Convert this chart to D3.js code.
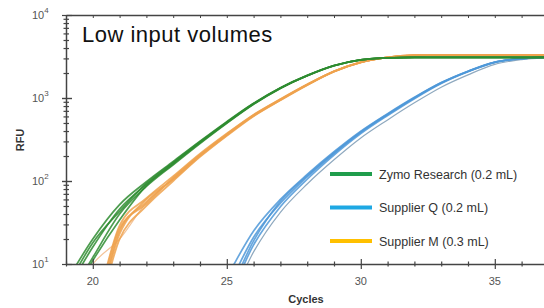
<!DOCTYPE html>
<html>
<head>
<meta charset="utf-8">
<script src="https://d3js.org/d3.v7.min.js"></script>
<style>
body { margin: 0; background: #fff; }
svg { display: block; font-family: "Liberation Sans", Arial, sans-serif; }
.axis path, .axis line { stroke: #444; }
.ticklab { fill: #555; font-size: 11px; }
.axtitle { fill: #333; font-size: 11px; font-weight: bold; }
.leg { fill: #333; font-size: 12.5px; }
</style>
</head>
<body>
<svg width="544" height="308"></svg>
<script>
// cycles sampled for every replicate curve
var cycles = [19,20,21,22,23,24,25,26,27,28,29,30,31,32,33,34,35,36,37,38,39,40];

// Zymo Research (0.2 mL) replicates, RFU
var zymo = [
  [4.5, 16, 46, 91, 164, 292, 507, 851, 1318, 1862, 2455, 2884, 3034, 3090, 3090, 3090, 3090, 3090, 3090, 3090, 3090, 3090],
  [6, 20, 52, 98, 172, 302, 520, 865, 1330, 1875, 2465, 2890, 3040, 3095, 3095, 3095, 3095, 3095, 3095, 3095, 3095, 3095],
  [3.5, 12, 40, 86, 157, 283, 496, 840, 1305, 1850, 2445, 2878, 3030, 3085, 3085, 3085, 3085, 3085, 3085, 3085, 3085, 3085],
  [5, 18, 43, 94, 168, 297, 512, 858, 1324, 1868, 2460, 2887, 3037, 3092, 3092, 3092, 3092, 3092, 3092, 3092, 3092, 3092],
  [3, 11, 34, 88, 160, 288, 502, 846, 1312, 1856, 2450, 2881, 3032, 3088, 3088, 3088, 3088, 3088, 3088, 3088, 3088, 3088]
];

// Supplier M (0.3 mL) replicates, RFU
var supplierM = [
  [1, 2, 25, 56, 107, 204, 362, 617, 955, 1445, 2089, 2692, 3090, 3273, 3311, 3311, 3311, 3311, 3311, 3311, 3311, 3311],
  [1, 2.5, 29, 62, 114, 213, 373, 630, 970, 1460, 2100, 2700, 3095, 3278, 3316, 3316, 3316, 3316, 3316, 3316, 3316, 3316],
  [1, 1.8, 20, 50, 100, 195, 350, 604, 940, 1430, 2078, 2684, 3085, 3268, 3306, 3306, 3306, 3306, 3306, 3306, 3306, 3306],
  [1, 2, 23, 60, 104, 200, 356, 610, 948, 1438, 2084, 2688, 3088, 3270, 3308, 3308, 3308, 3308, 3308, 3308, 3308, 3308],
  [1, 2.2, 27, 53, 110, 208, 367, 624, 962, 1452, 2094, 2696, 3092, 3276, 3314, 3314, 3314, 3314, 3314, 3314, 3314, 3314]
];
var supplierMFaint = [3, 10, 20, 55, 106, 203, 360, 615, 952, 1442, 2087, 2690, 3089, 3272, 3310, 3310, 3310, 3310, 3310, 3310, 3310, 3310];

// Supplier Q (0.2 mL) replicates, RFU
var supplierQ = [
  [1, 1, 1, 1, 1, 1.4, 5, 21, 54, 112, 214, 385, 631, 1000, 1514, 2089, 2692, 2985, 3105, 3162, 3162, 3162],
  [1, 1, 1, 1, 1, 2, 7, 25, 60, 120, 225, 398, 648, 1020, 1535, 2105, 2702, 2992, 3110, 3166, 3166, 3166],
  [1, 1, 1, 1, 1, 1.2, 3.5, 17, 49, 105, 205, 372, 615, 982, 1495, 2072, 2682, 2978, 3100, 3158, 3158, 3158],
  [1, 1, 1, 1, 1, 1.3, 4, 19, 57, 116, 219, 390, 638, 1010, 1524, 2096, 2697, 2988, 3107, 3163, 3163, 3163]
];
var supplierQFaint = [1, 1, 1, 1, 1, 1, 3, 14, 42, 92, 180, 330, 545, 875, 1350, 1900, 2540, 2900, 3070, 3150, 3150, 3150];

var legendNames = ["Zymo Research (0.2 mL)", "Supplier Q (0.2 mL)", "Supplier M (0.3 mL)"];
var legendColors = ["#1f9d4c", "#1ea8e3", "#ffc000"];
var xMajor = [20, 25, 30, 35];
var yMajor = [10, 100, 1000, 10000];

var svg = d3.select("svg");
var mLeft = 66, mTop = 15, mBottom = 264;

var x = d3.scaleLinear().domain([19, 40]).range([mLeft, mLeft + 21 * 26.8]);
var y = d3.scaleLog().domain([10, 10000]).range([mBottom, mTop]);

svg.append("clipPath").attr("id", "plot")
  .append("rect").attr("x", mLeft).attr("y", mTop).attr("width", 600).attr("height", mBottom - mTop);

var line = d3.line()
  .x(function(d, i){ return x(cycles[i]); })
  .y(function(d){ return y(d); })
  .curve(d3.curveMonotoneX);

var curves = svg.append("g").attr("clip-path", "url(#plot)").attr("fill", "none");

function drawSet(set, color, width, op) {
  curves.append("g").selectAll("path")
    .data(set)
    .enter().append("path")
    .attr("d", line)
    .attr("stroke", color)
    .attr("stroke-width", width)
    .attr("stroke-opacity", op);
}

drawSet([supplierQFaint], "#8fa9bf", 1.2, 1);
drawSet(supplierQ, "#4d98d8", 1.7, 0.85);
drawSet([supplierMFaint], "#f3c49a", 1.2, 1);
drawSet(supplierM, "#efa24e", 1.8, 0.85);
drawSet(zymo, "#2e8c30", 1.7, 0.85);

// frame (top line with ticks)
var minorX = d3.range(19, 41);
var topAx = svg.append("g").attr("class", "axis")
  .attr("transform", "translate(0," + mTop + ")")
  .call(d3.axisTop(x).tickValues(minorX).tickSize(0).tickFormat(""));
topAx.selectAll(".tick line").attr("y1", 0).attr("y2", 3);
topAx.select(".domain").attr("stroke-width", 1.5);

// x axis
var xAx = svg.append("g").attr("class", "axis")
  .attr("transform", "translate(0," + mBottom + ")")
  .call(d3.axisBottom(x).tickValues(minorX).tickSize(0).tickFormat(""));
xAx.selectAll(".tick line")
  .attr("y1", function(d){ return xMajor.indexOf(d) >= 0 ? -5 : -2.5; })
  .attr("y2", function(d){ return xMajor.indexOf(d) >= 0 ? 5 : 2.5; })
  .attr("stroke-width", 1.2);
xAx.select(".domain").attr("stroke-width", 1.5);

svg.append("g").selectAll("text")
  .data(xMajor)
  .enter().append("text")
  .attr("class", "ticklab")
  .attr("x", function(d){ return x(d); })
  .attr("y", 285)
  .attr("text-anchor", "middle")
  .text(function(d){ return d; });

// y axis with log minor ticks
var minorY = [];
[10, 100, 1000].forEach(function(b){
  for (var k = 1; k <= 10; k++) minorY.push(b * k);
});
var yAx = svg.append("g").attr("class", "axis")
  .attr("transform", "translate(" + mLeft + ",0)")
  .call(d3.axisLeft(y).tickValues(minorY).tickSize(0).tickFormat(""));
yAx.selectAll(".tick line")
  .attr("x1", function(d){ return yMajor.indexOf(d) >= 0 ? -4 : -2.5; })
  .attr("x2", function(d){ return yMajor.indexOf(d) >= 0 ? 6 : 3; })
  .attr("stroke-width", 1.2);
yAx.select(".domain").attr("stroke-width", 1.5);

var yl = svg.append("g").selectAll("text")
  .data(yMajor)
  .enter().append("text")
  .attr("class", "ticklab")
  .attr("x", 32)
  .attr("y", function(d){ return y(d) + 4; })
  .text("10");
yl.append("tspan")
  .attr("dy", -6)
  .attr("font-size", "8px")
  .text(function(d){ return Math.round(Math.log10(d)); });

// axis titles
svg.append("text").attr("class", "axtitle")
  .attr("x", 306).attr("y", 303).attr("text-anchor", "middle").text("Cycles");
svg.append("text").attr("class", "axtitle")
  .attr("transform", "translate(24,140) rotate(-90)")
  .attr("text-anchor", "middle").text("RFU");

// panel title
svg.append("text")
  .attr("x", 82).attr("y", 42)
  .attr("font-size", "22px").attr("letter-spacing", "0.5px").attr("fill", "#111")
  .text("Low input volumes");

// legend
var leg = svg.append("g").selectAll("g")
  .data(legendNames)
  .enter().append("g")
  .attr("transform", function(d, i){ return "translate(330," + (174 + i * 33.5) + ")"; });
leg.append("line")
  .attr("x1", 0).attr("x2", 42)
  .attr("stroke", function(d, i){ return legendColors[i]; })
  .attr("stroke-width", 4);
leg.append("text")
  .attr("class", "leg")
  .attr("x", 49).attr("y", 4.5)
  .text(function(d){ return d; });
</script>
</body>
</html>
